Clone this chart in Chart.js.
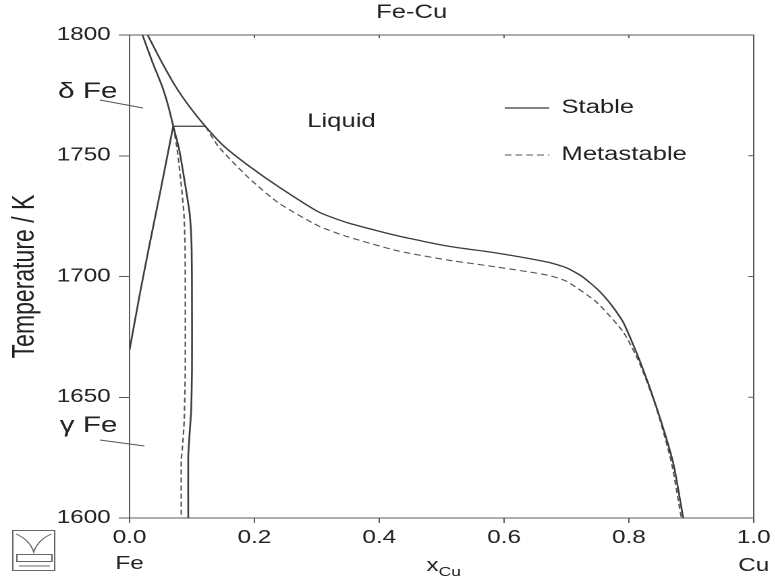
<!DOCTYPE html>
<html>
<head>
<meta charset="utf-8">
<script src="https://cdn.jsdelivr.net/npm/chart.js@4.4.1/dist/chart.umd.min.js"></script>
<style>
html,body{margin:0;padding:0;background:#fff;overflow:hidden}
/* the reference is stretched sideways, so the chart is drawn narrow and widened */
#wrap{position:absolute;left:0;top:0;width:575px;height:577px;transform:scaleX(1.34957);transform-origin:0 0}
</style>
</head>
<body>
<div id="wrap"><canvas id="chart"></canvas></div>
<script>
// liquidus, stable
const liqStableX = [0.029,0.050,0.073,0.097,0.122,0.151,0.191,0.239,0.303,0.350,0.430,0.510,0.589,0.669,0.700,0.725,0.750,0.772,0.791,0.817,0.844,0.871,0.887];
const liqStableT = [1800,1789.5,1779.0,1770.0,1762.0,1754.0,1745.8,1737.1,1726.7,1722.2,1716.8,1712.6,1709.7,1706.0,1703.6,1700.0,1694.6,1688.2,1681.0,1665.4,1646.0,1622.8,1600];

// liquidus, metastable
const liqMetaX = [0.122,0.143,0.191,0.239,0.303,0.350,0.430,0.510,0.589,0.669,0.700,0.748,0.791,0.817,0.844,0.868,0.884];
const liqMetaT = [1762.0,1753.6,1740.8,1730.4,1720.9,1716.4,1710.6,1706.8,1703.9,1700.6,1698.0,1689.4,1677.0,1664.2,1645.6,1623.2,1600];

// delta solidus
const deltaSolX = [0.0207,0.0366,0.0525,0.062,0.070];
const deltaSolT = [1800,1788.8,1778.5,1770.6,1762.3];

// gamma / delta boundary
const gdX = [0,0.0159,0.0318,0.0478,0.0605,0.070];
const gdT = [1669.6,1692.0,1713.0,1733.3,1749.9,1762.3];

// peritectic line
const periX = [0.070,0.122];
const periT = [1762.2,1762.2];

// gamma boundary, stable
const gamStableX = [0.070,0.0796,0.0892,0.0965,0.0995,0.100,0.100,0.0987,0.0955,0.094,0.094];
const gamStableT = [1762.3,1752.4,1737.9,1725.5,1711,1690.3,1661.3,1644.7,1632.3,1625.3,1600];

// gamma boundary, metastable
const gamMetaX = [0.070,0.0764,0.0828,0.0872,0.0890,0.0892,0.0876,0.0844,0.0828,0.0828];
const gamMetaT = [1762.3,1752.4,1737.9,1725.5,1711,1661.3,1640.6,1628.2,1624.0,1600];

const xTicks = [0,0.2,0.4,0.6,0.8,1.0];
const yTicks = [1600,1650,1700,1750,1800];
const legendLabels = ["Stable","Metastable"];

const FONT = "'Liberation Sans', Arial, Helvetica, sans-serif";
const INK = "#222";
const LINE = "#3c3c3c";
const AXIS = "#5a5a5a";

Chart.defaults.font.family = FONT;
Chart.defaults.color = INK;

const pts = (xs, ts) => xs.map((x, i) => ({x: x, y: ts[i]}));

function solid(label, xs, ts) {
  return {label: label, data: pts(xs, ts), showLine: true, borderColor: LINE,
    borderWidth: 1.3, pointRadius: 0, tension: 0.2, fill: false};
}
function dashed(label, xs, ts) {
  return {label: label, data: pts(xs, ts), showLine: true, borderColor: "#555",
    borderWidth: 1.1, borderDash: [5,3], pointRadius: 0, tension: 0.2, fill: false};
}

// frame, inner ticks, labels, legend and the small logo
const extras = {
  id: "extras",
  afterDraw(chart) {
    const ctx = chart.ctx;
    const a = chart.chartArea;
    const xs = chart.scales.x, ys = chart.scales.y;
    ctx.save();
    ctx.strokeStyle = AXIS;
    ctx.lineWidth = 1;
    ctx.beginPath();
    ctx.moveTo(a.left, a.top); ctx.lineTo(a.right, a.top); ctx.lineTo(a.right, a.bottom);
    yTicks.forEach(t => {
      const py = ys.getPixelForValue(t);
      ctx.moveTo(a.right - 4, py); ctx.lineTo(a.right, py);
    });
    xTicks.forEach(t => {
      const px = xs.getPixelForValue(t);
      ctx.moveTo(px, a.top); ctx.lineTo(px, a.top + 3);
    });
    ctx.stroke();

    ctx.fillStyle = INK;
    ctx.textBaseline = "middle";
    ctx.textAlign = "center";
    ctx.font = "19px " + FONT;
    ctx.fillText("Fe-Cu", 305, 13);

    ctx.textBaseline = "alphabetic";
    ctx.font = "19px " + FONT;
    ctx.fillText("Liquid", 253, 127);

    // phase labels with pointers
    ctx.textAlign = "right";
    ctx.font = "22px " + FONT;
    ctx.fillText("\u03b4 Fe", 87, 98);
    ctx.fillText("\u03b3 Fe", 87, 432);
    ctx.beginPath();
    ctx.strokeStyle = "#555";
    ctx.moveTo(74, 100); ctx.lineTo(106, 108);
    ctx.moveTo(74, 440); ctx.lineTo(107, 446);
    ctx.stroke();

    // x axis labels
    ctx.textAlign = "center";
    ctx.font = "18px " + FONT;
    ctx.fillText("Fe", xs.getPixelForValue(0), 569);
    ctx.fillText("Cu", xs.getPixelForValue(1), 571);
    ctx.textAlign = "left";
    ctx.font = "18px " + FONT;
    ctx.fillText("x", 316, 571);
    ctx.font = "13px " + FONT;
    ctx.fillText("Cu", 325, 576);

    // legend
    const styles = [chart.data.datasets[0], chart.data.datasets[1]];
    const rows = [108, 155];
    ctx.textBaseline = "middle";
    ctx.font = "19px " + FONT;
    legendLabels.forEach((lab, i) => {
      ctx.beginPath();
      ctx.strokeStyle = styles[i].borderColor;
      ctx.lineWidth = styles[i].borderWidth;
      ctx.setLineDash(styles[i].borderDash || []);
      ctx.moveTo(374, rows[i]); ctx.lineTo(407, rows[i]);
      ctx.stroke();
      ctx.setLineDash([]);
      ctx.fillStyle = INK;
      ctx.fillText(lab, 416, rows[i]);
    });

    // logo
    ctx.strokeStyle = "#666";
    ctx.lineWidth = 1;
    ctx.strokeRect(9.5, 530.5, 31, 40);
    ctx.beginPath();
    ctx.moveTo(12, 534); ctx.quadraticCurveTo(22, 540, 25, 552);
    ctx.quadraticCurveTo(28, 540, 38, 534);
    ctx.stroke();
    ctx.strokeRect(12.5, 554.5, 26, 7);
    ctx.beginPath();
    ctx.moveTo(14, 566); ctx.lineTo(37, 566);
    ctx.stroke();
    ctx.restore();
  }
};

new Chart(document.getElementById("chart"), {
  type: "scatter",
  data: {
    datasets: [
      solid("Stable", liqStableX, liqStableT),
      dashed("Metastable", liqMetaX, liqMetaT),
      solid("delta solidus", deltaSolX, deltaSolT),
      solid("gamma/delta", gdX, gdT),
      {label: "peritectic", data: pts(periX, periT), showLine: true, borderColor: LINE, borderWidth: 1.2, pointRadius: 0},
      solid("gamma stable", gamStableX, gamStableT),
      dashed("gamma metastable", gamMetaX, gamMetaT)
    ]
  },
  options: {
    responsive: true,
    maintainAspectRatio: false,
    animation: false,
    devicePixelRatio: 2,
    layout: {padding: {top: 35, right: 13, bottom: 0, left: 0}},
    plugins: {legend: {display: false}, tooltip: {enabled: false}, title: {display: false}},
    scales: {
      x: {
        type: "linear", min: 0, max: 1,
        afterBuildTicks: s => { s.ticks = xTicks.map(v => ({value: v})); },
        afterFit: s => { s.height = 59; },
        ticks: {font: {size: 18}, color: INK, padding: 4, maxRotation: 0,
          callback: v => Number(v).toFixed(1)},
        grid: {drawOnChartArea: false, tickLength: 5, color: AXIS},
        border: {display: true, color: AXIS, width: 1}
      },
      y: {
        type: "linear", min: 1600, max: 1800,
        afterBuildTicks: s => { s.ticks = yTicks.map(v => ({value: v})); },
        afterFit: s => { s.width = 96; },
        ticks: {font: {size: 18}, color: INK, padding: 6, callback: v => String(v)},
        grid: {drawOnChartArea: false, tickLength: 8, color: AXIS},
        border: {display: true, color: AXIS, width: 1},
        title: {display: true, text: "Temperature / K", font: {size: 23}, color: INK, padding: {top: 5, bottom: 0}}
      }
    }
  },
  plugins: [extras]
});
</script>
</body>
</html>
